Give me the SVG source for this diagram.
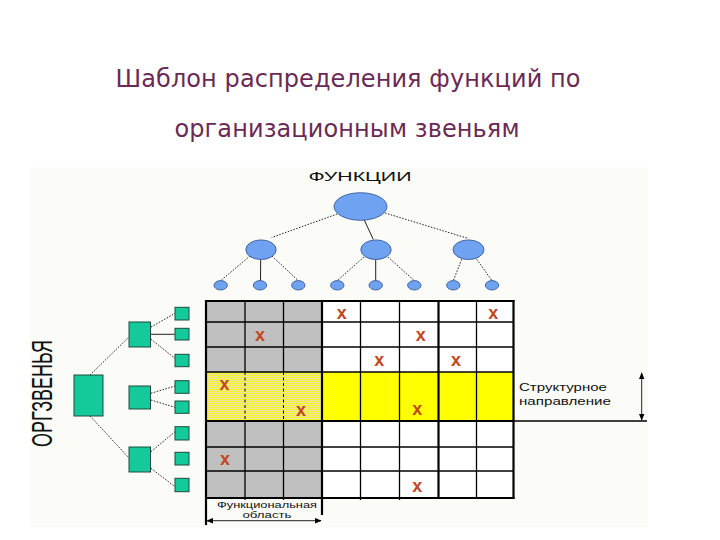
<svg xmlns="http://www.w3.org/2000/svg" width="720" height="540" viewBox="0 0 720 540">
<defs>
<style>
.title{font-family:"DejaVu Sans","Liberation Sans",sans-serif;font-size:24px;fill:#6B2A55;text-anchor:middle}
.lbl{font-family:"Liberation Sans",Arial,sans-serif;fill:#111}
.xm{font-family:"Liberation Sans",Arial,sans-serif;font-size:18px;font-weight:bold;fill:#C4461F;text-anchor:middle}
.ell{fill:#6FA3F2;stroke:#2B4C8C;stroke-width:0.8}
.sq{fill:#14C99A;stroke:#1E4A3C;stroke-width:1}
.dot{stroke:#222;stroke-width:1;stroke-dasharray:1.5 1.5;fill:none}
.sol{stroke:#222;stroke-width:1;fill:none}
.g{stroke:#000;stroke-width:1.3;fill:none}
.gt{stroke:#000;stroke-width:2.2;fill:none}
</style>
<pattern id="hatch" width="2" height="2" patternUnits="userSpaceOnUse">
<rect width="2" height="2" fill="#FAF82C"/>
<rect width="1" height="1" fill="#E2E096"/>
<rect x="1" y="1" width="1" height="1" fill="#ECEA6A"/>
</pattern>
<marker id="ah" viewBox="0 0 10 10" refX="9" refY="5" markerWidth="7" markerHeight="7" orient="auto-start-reverse" markerUnits="userSpaceOnUse">
<path d="M0,1 L10,5 L0,9 Z" fill="#000"/>
</marker>
</defs>
<rect width="720" height="540" fill="#FFFFFF"/>
<rect x="30" y="167" width="618" height="360" fill="#FBFCF8"/>

<g id="title">
<text class="title" x="348" y="87" textLength="465">Шаблон распределения функций по</text>
<text class="title" x="347" y="137" textLength="345">организационным звеньям</text>
</g>

<g id="connectors">
<!-- top tree -->
<line class="dot" x1="340" y1="213" x2="271.7" y2="237.5"/>
<line class="sol" x1="364.3" y1="220" x2="373.3" y2="239.5"/>
<line class="dot" x1="385" y1="213" x2="468.3" y2="238.5"/>
<line class="dot" x1="250" y1="256" x2="220.7" y2="280.7"/>
<line class="sol" x1="260.7" y1="259.5" x2="260.5" y2="280.7"/>
<line class="dot" x1="272" y1="256" x2="298.3" y2="280.7"/>
<line class="dot" x1="364" y1="257" x2="337.3" y2="280.7"/>
<line class="sol" x1="375.7" y1="259.5" x2="375.7" y2="280.7"/>
<line class="dot" x1="388" y1="257" x2="414.3" y2="280.7"/>
<line class="dot" x1="461.7" y1="259.3" x2="453.3" y2="280.7"/>
<line class="dot" x1="476.7" y1="259.3" x2="492" y2="280.7"/>
<!-- left tree -->
<line class="dot" x1="90" y1="375" x2="129.3" y2="336.7"/>
<line class="dot" x1="90" y1="416" x2="129.3" y2="458.3"/>
<line class="dot" x1="151" y1="327" x2="175" y2="313.3"/>
<line class="sol" x1="151" y1="334.3" x2="175" y2="334.3"/>
<line class="dot" x1="151" y1="339.3" x2="175" y2="358.3"/>
<line class="dot" x1="151" y1="393.3" x2="175" y2="386"/>
<line class="dot" x1="151" y1="400" x2="175" y2="407.3"/>
<line class="dot" x1="151" y1="451.7" x2="175" y2="431.7"/>
<line class="dot" x1="151" y1="468.3" x2="175" y2="486.7"/>
<!-- dimension arrows -->
<line class="sol" x1="207" y1="520.7" x2="321" y2="520.7" marker-start="url(#ah)" marker-end="url(#ah)"/>
<line class="sol" x1="641.7" y1="373" x2="641.7" y2="420" marker-start="url(#ah)" marker-end="url(#ah)"/>
</g>

<g id="functions">
<text class="lbl" x="360" y="181" font-size="13" text-anchor="middle" textLength="103" lengthAdjust="spacingAndGlyphs">ФУНКЦИИ</text>
<ellipse class="ell" cx="360.5" cy="206.5" rx="26.5" ry="13.8"/>
<ellipse class="ell" cx="261" cy="249.7" rx="15.2" ry="9.8"/>
<ellipse class="ell" cx="376" cy="249.7" rx="15.2" ry="9.8"/>
<ellipse class="ell" cx="468.5" cy="249.7" rx="15.5" ry="9.8"/>
<ellipse class="ell" cx="220.7" cy="285.3" rx="6.7" ry="4.7"/>
<ellipse class="ell" cx="260" cy="285.3" rx="6.7" ry="4.7"/>
<ellipse class="ell" cx="298.3" cy="285.3" rx="6.7" ry="4.7"/>
<ellipse class="ell" cx="337.3" cy="285.3" rx="6.7" ry="4.7"/>
<ellipse class="ell" cx="375.7" cy="285.3" rx="6.7" ry="4.7"/>
<ellipse class="ell" cx="414.3" cy="285.3" rx="6.7" ry="4.7"/>
<ellipse class="ell" cx="453.3" cy="285.3" rx="6.7" ry="4.7"/>
<ellipse class="ell" cx="492" cy="285.3" rx="6.7" ry="4.7"/>
</g>

<g id="orgunits">
<text class="lbl" transform="translate(51.5,393.5) rotate(-90)" font-size="29" text-anchor="middle" textLength="107" lengthAdjust="spacingAndGlyphs">ОРГЗВЕНЬЯ</text>
<rect class="sq" x="74" y="375" width="29" height="41"/>
<rect class="sq" x="129" y="322" width="21.5" height="25"/>
<rect class="sq" x="129" y="386" width="21.5" height="23"/>
<rect class="sq" x="129" y="447" width="21.5" height="25"/>
<rect class="sq" x="175" y="307.3" width="14" height="12.7"/>
<rect class="sq" x="175" y="328.3" width="14" height="11.7"/>
<rect class="sq" x="175" y="354.3" width="14" height="12.4"/>
<rect class="sq" x="175" y="380.7" width="14" height="12.6"/>
<rect class="sq" x="175" y="401" width="14" height="12.3"/>
<rect class="sq" x="175" y="426.7" width="14" height="13.3"/>
<rect class="sq" x="175" y="452.3" width="14" height="12.7"/>
<rect class="sq" x="175" y="478.3" width="14" height="13.4"/>
</g>

<g id="matrix">
<rect x="206" y="301" width="308" height="197" fill="#FFFFFF"/>
<rect x="206" y="301" width="116" height="71" fill="#C0C0C0"/>
<rect x="206" y="421" width="116" height="77" fill="#C0C0C0"/>
<rect x="206" y="372" width="116" height="49" fill="url(#hatch)"/>
<rect x="322" y="372" width="192" height="49" fill="#FFFF00"/>
<!-- horizontal lines -->
<line class="g" x1="206" y1="322" x2="514" y2="322"/>
<line class="g" x1="206" y1="347" x2="514" y2="347"/>
<line class="g" x1="206" y1="372" x2="514" y2="372"/>
<line class="g" x1="206" y1="447" x2="514" y2="447"/>
<line class="g" x1="206" y1="471" x2="514" y2="471"/>
<line class="gt" x1="206" y1="421" x2="514" y2="421"/>
<!-- vertical lines -->
<line class="g" x1="245" y1="301" x2="245" y2="372"/>
<line class="g" x1="245" y1="421" x2="245" y2="500"/>
<line class="g" x1="283.5" y1="301" x2="283.5" y2="372"/>
<line class="g" x1="283.5" y1="421" x2="283.5" y2="500"/>
<line x1="245" y1="372" x2="245" y2="421" stroke="#000" stroke-width="1" stroke-dasharray="3 2.5"/>
<line x1="283.5" y1="372" x2="283.5" y2="421" stroke="#000" stroke-width="1" stroke-dasharray="3 2.5"/>
<line class="g" x1="360.5" y1="301" x2="360.5" y2="500"/>
<line class="g" x1="399.5" y1="301" x2="399.5" y2="500"/>
<line class="g" x1="476.5" y1="301" x2="476.5" y2="498"/>
<line class="gt" x1="322" y1="301" x2="322" y2="515"/>
<line class="gt" x1="438.5" y1="301" x2="438.5" y2="498"/>
<line class="gt" x1="206" y1="300" x2="206" y2="525"/>
<line class="gt" x1="513.5" y1="300" x2="513.5" y2="499"/>
<line class="gt" x1="205" y1="301" x2="514.5" y2="301"/>
<line class="gt" x1="205" y1="498" x2="514.5" y2="498"/>
<line class="g" x1="514" y1="421" x2="647" y2="421"/>
<!-- marks -->
<text class="xm" x="341.7" y="318.5">x</text>
<text class="xm" x="493.3" y="318.5">x</text>
<text class="xm" x="260" y="340.5">x</text>
<text class="xm" x="420.7" y="340.5">x</text>
<text class="xm" x="379.3" y="366">x</text>
<text class="xm" x="456" y="366">x</text>
<text class="xm" x="224.5" y="389.5">x</text>
<text class="xm" x="301" y="415.5">x</text>
<text class="xm" x="417.3" y="415">x</text>
<text class="xm" x="225" y="465">x</text>
<text class="xm" x="417.3" y="492">x</text>
</g>

<g id="labels">
<text class="lbl" x="519" y="391" font-size="11" textLength="88" lengthAdjust="spacingAndGlyphs">Структурное</text>
<text class="lbl" x="519" y="405" font-size="11" textLength="92" lengthAdjust="spacingAndGlyphs">направление</text>
<text class="lbl" x="267" y="508" font-size="9.5" text-anchor="middle" textLength="100" lengthAdjust="spacingAndGlyphs" fill="#333">Функциональная</text>
<text class="lbl" x="267" y="518" font-size="9.5" text-anchor="middle" textLength="49" lengthAdjust="spacingAndGlyphs" fill="#333">область</text>
</g>
</svg>
